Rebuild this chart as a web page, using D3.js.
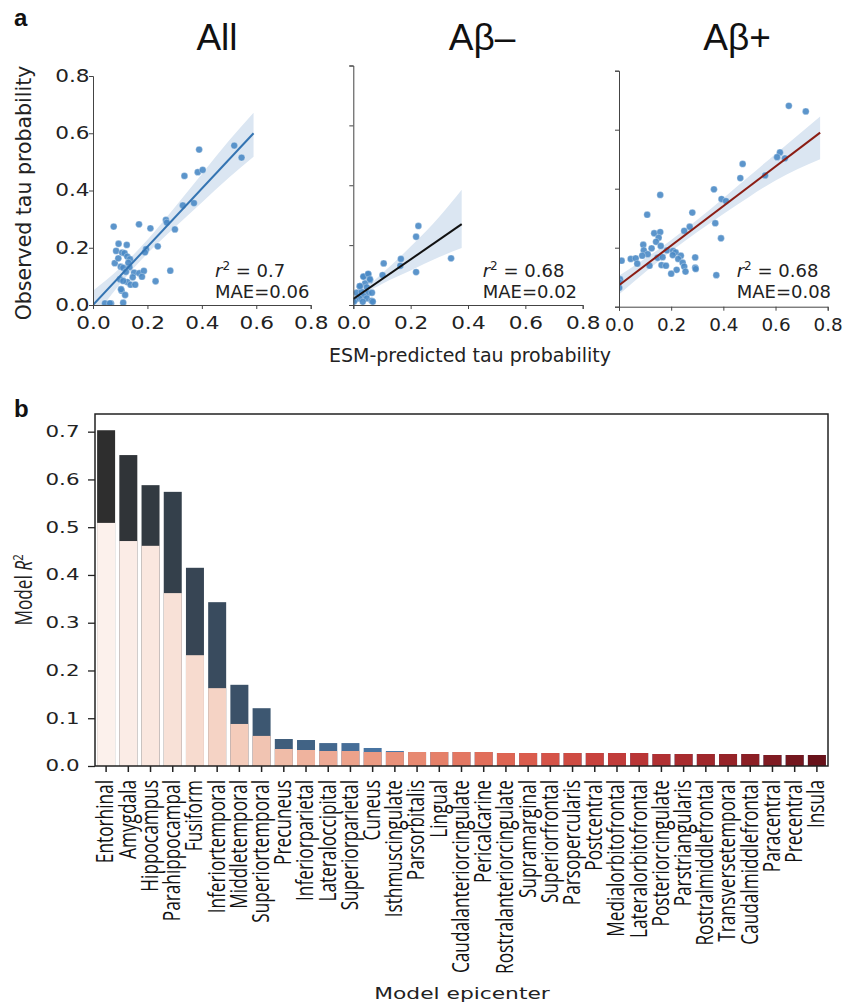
<!DOCTYPE html>
<html>
<head>
<meta charset="utf-8">
<script src="https://d3js.org/d3.v7.min.js"></script>
<style>
  body { margin: 0; background: #fff; }
  text { font-family: "DejaVu Sans", sans-serif; fill: #222; }
</style>
</head>
<body>
<svg id="fig" width="843" height="1004"></svg>
<script>
// ---------- panel a data ----------
var allX = [0.519,0.546,0.390,0.385,0.403,0.336,0.330,0.371,0.268,0.271,0.301,0.211,0.169,0.076,0.238,0.195,0.191,0.284,0.230,
            0.094,0.124,0.085,0.107,0.116,0.126,0.136,0.080,0.102,0.111,0.134,0.121,0.151,0.170,0.187,0.180,0.146,0.099,0.126,
            0.138,0.155,0.105,0.118,0.111,0.044,0.066,0.062,0.093,0.130,0.111,0.103];
var allY = [0.557,0.515,0.543,0.464,0.472,0.451,0.348,0.356,0.297,0.288,0.264,0.268,0.282,0.274,0.205,0.195,0.184,0.120,0.083,
            0.214,0.210,0.189,0.183,0.181,0.169,0.160,0.146,0.134,0.130,0.132,0.116,0.113,0.111,0.119,0.099,0.097,0.090,0.080,
            0.071,0.071,0.050,0.035,0.008,0.006,0.006,0.006,0.163,0.148,0.084,0.055];

var negX = [0.227,0.219,0.166,0.164,0.106,0.102,0.219,0.341,0.052,0.037,0.058,0.041,0.023,0.047,0.012,0.029,0.052,0.035,
            0.021,0.047,0.064,0.006,0.033,0.035,0.052,0.058,0.023,0.065,0.068,0.002];
var negY = [0.264,0.228,0.154,0.131,0.139,0.100,0.110,0.156,0.102,0.095,0.083,0.072,0.063,0.059,0.041,0.044,0.039,0.030,
            0.022,0.022,0.014,0.017,0.011,0.095,0.104,0.086,0.063,0.041,0.011,0.011];

var posX = [0.651,0.716,0.617,0.606,0.636,0.474,0.465,0.560,0.364,0.393,0.410,0.158,0.108,0.281,0.271,0.250,0.369,0.391,
            0.135,0.158,0.152,0.142,0.093,0.160,0.125,0.095,0.110,0.089,0.010,0.045,0.064,0.070,0.117,0.148,0.167,0.163,
            0.180,0.184,0.207,0.217,0.237,0.206,0.227,0.244,0.250,0.255,0.221,0.200,0.292,0.292,0.294,0.373,0.004,0.000,0.001];
var posY = [0.681,0.662,0.523,0.507,0.503,0.484,0.436,0.445,0.398,0.365,0.358,0.379,0.312,0.319,0.271,0.257,0.283,0.232,
            0.249,0.253,0.234,0.220,0.210,0.206,0.198,0.191,0.178,0.173,0.156,0.162,0.164,0.146,0.139,0.166,0.168,0.141,
            0.139,0.191,0.189,0.184,0.173,0.175,0.162,0.149,0.136,0.119,0.125,0.112,0.167,0.132,0.128,0.107,0.093,0.083,0.064];

// regression lines and confidence bands
var fitAllX = [0, 0.59],  fitAllY = [0, 0.60];
var fitNegX = [0, 0.378], fitNegY = [0.02, 0.27];
var fitPosX = [0, 0.771], fitPosY = [0.073, 0.59];

var bandAllX  = [0, 0.1, 0.2, 0.3, 0.4, 0.5, 0.59];
var bandAllLo = [-0.05, 0.074, 0.18, 0.271, 0.358, 0.445, 0.518];
var bandAllHi = [0.05, 0.13, 0.228, 0.341, 0.458, 0.575, 0.672];
var bandNegX  = [0, 0.05, 0.1, 0.2, 0.3, 0.378];
var bandNegLo = [0.005, 0.043, 0.07, 0.115, 0.16, 0.19];
var bandNegHi = [0.035, 0.063, 0.105, 0.195, 0.295, 0.385];
var bandPosX  = [0, 0.1, 0.2, 0.3, 0.4, 0.5, 0.6, 0.771];
var bandPosLo = [0.041, 0.117, 0.188, 0.253, 0.314, 0.373, 0.428, 0.50];
var bandPosHi = [0.105, 0.163, 0.226, 0.295, 0.368, 0.443, 0.518, 0.645];

var axisTicks = [0, 0.2, 0.4, 0.6, 0.8];

// ---------- panel b data ----------
var regions = ["Entorhinal","Amygdala","Hippocampus","Parahippocampal","Fusiform","Inferiortemporal","Middletemporal",
  "Superiortemporal","Precuneus","Inferiorparietal","Lateraloccipital","Superiorparietal","Cuneus","Isthmuscingulate",
  "Parsorbitalis","Lingual","Caudalanteriorcingulate","Pericalcarine","Rostralanteriorcingulate","Supramarginal",
  "Superiorfrontal","Parsopercularis","Postcentral","Medialorbitofrontal","Lateralorbitofrontal","Posteriorcingulate",
  "Parstriangularis","Rostralmiddlefrontal","Transversetemporal","Caudalmiddlefrontal","Paracentral","Precentral","Insula"];
var totalR2 = [0.703,0.651,0.588,0.574,0.415,0.343,0.170,0.121,0.0565,0.0544,0.048,0.048,0.0377,0.0314,
  0.0293,0.0293,0.0293,0.0293,0.0272,0.0272,0.0272,0.0272,0.0272,0.0272,0.0272,0.0251,0.0251,0.0251,0.0251,0.0251,
  0.023,0.023,0.023];
var baseR2 = [0.509,0.471,0.461,0.362,0.232,0.163,0.088,0.063,0.0356,0.0335,0.0314,0.0314,0.0293,0.0293,
  0.0293,0.0293,0.0293,0.0293,0.0272,0.0272,0.0272,0.0272,0.0272,0.0272,0.0272,0.0251,0.0251,0.0251,0.0251,0.0251,
  0.023,0.023,0.023];
var r2Ticks = [0, 0.1, 0.2, 0.3, 0.4, 0.5, 0.6, 0.7];

var svg = d3.select("#fig");

// panel letters
svg.append("text").attr("x", 14).attr("y", 26).text("a")
  .style("font-family", "Liberation Sans").style("font-weight", "bold").style("font-size", "24px").style("fill", "#111");
svg.append("text").attr("x", 14).attr("y", 417).text("b")
  .style("font-family", "Liberation Sans").style("font-weight", "bold").style("font-size", "24px").style("fill", "#111");

// ---------- panel a ----------
var panels = [
  {title: "All", tx: 217, left: 93, right: 310.7, top: 76, bottom: 305, xs: allX, ys: allY,
   fx: fitAllX, fy: fitAllY, bx: bandAllX, lo: bandAllLo, hi: bandAllHi, line: "#3474b2",
   r2: "0.7", mae: "0.06", ax: 215, labels: true, stretch: 1.27},
  {title: "A\u03b2\u2013", tx: 482, left: 353.3, right: 582.7, top: 65.5, bottom: 305, xs: negX, ys: negY,
   fx: fitNegX, fy: fitNegY, bx: bandNegX, lo: bandNegLo, hi: bandNegHi, line: "#111",
   r2: "0.68", mae: "0.02", ax: 482.7, labels: false, stretch: 1.27},
  {title: "A\u03b2+", tx: 737, left: 619, right: 827.7, top: 70.7, bottom: 306.7, xs: posX, ys: posY,
   fx: fitPosX, fy: fitPosY, bx: bandPosX, lo: bandPosLo, hi: bandPosHi, line: "#8b1d14",
   r2: "0.68", mae: "0.08", ax: 736.7, labels: false, stretch: 1.08}
];

panels.forEach(function(p, k){
  var x = d3.scaleLinear().domain([0, 0.8]).range([p.left, p.right]);
  var y = d3.scaleLinear().domain([0, 0.8]).range([p.bottom, p.top]);
  var g = svg.append("g");

  g.append("clipPath").attr("id", "clip" + k)
    .append("rect").attr("x", p.left).attr("y", p.top)
    .attr("width", p.right - p.left).attr("height", p.bottom - p.top);

  var plot = g.append("g").attr("clip-path", "url(#clip" + k + ")");

  var area = d3.area()
    .x(function(d, i){ return x(d); })
    .y0(function(d, i){ return y(p.lo[i]); })
    .y1(function(d, i){ return y(p.hi[i]); })
    .curve(d3.curveMonotoneX);
  plot.append("path").datum(p.bx).attr("d", area)
    .style("fill", "#dbe6f2");

  plot.selectAll("circle").data(p.xs).enter().append("circle")
    .attr("cx", function(d){ return x(d); })
    .attr("cy", function(d, i){ return y(p.ys[i]); })
    .attr("r", 3.4)
    .style("fill", "#4a89c5")
    .style("fill-opacity", 0.9)
    .style("stroke", "#fff").style("stroke-width", 0.3);

  plot.append("line")
    .attr("x1", x(p.fx[0])).attr("y1", y(p.fy[0]))
    .attr("x2", x(p.fx[1])).attr("y2", y(p.fy[1]))
    .style("stroke", p.line).style("stroke-width", 2);

  // axes
  var yAxis = d3.axisLeft(y).tickValues(axisTicks).tickSize(4)
    .tickFormat(p.labels ? d3.format(".1f") : function(){ return ""; });
  var ya = g.append("g").attr("transform", "translate(" + p.left + ",0)").call(yAxis);
  var xAxis = d3.axisBottom(x).tickValues(axisTicks).tickSize(4).tickPadding(8).tickFormat(d3.format(".1f"));
  var xa = g.append("g").attr("transform", "translate(0," + p.bottom + ")").call(xAxis);

  [ya, xa].forEach(function(a){
    a.select(".domain").style("stroke", "#444");
    a.selectAll(".tick line").style("stroke", "#444");
    a.selectAll(".tick text").style("font-family", "DejaVu Sans").style("font-size", "17px").style("fill", "#222")
      .attr("transform", "scale(" + p.stretch + ",1)");
  });
  ya.selectAll(".tick text").attr("x", -3.5 / p.stretch);

  // title
  svg.append("text").attr("x", p.tx).attr("y", 50).attr("text-anchor", "middle")
    .style("font-family", "Liberation Sans").style("font-size", "37px").style("fill", "#111")
    .text(p.title);

  // annotation
  var t1 = svg.append("text").attr("x", p.ax).attr("y", 277).style("font-size", "18px");
  t1.append("tspan").style("font-style", "italic").text("r");
  t1.append("tspan").attr("dy", -7).style("font-size", "12px").text("2");
  t1.append("tspan").attr("dy", 7).text(" = " + p.r2);
  svg.append("text").attr("x", p.ax).attr("y", 297.5).style("font-size", "18px").text("MAE=" + p.mae);
});

svg.append("text").attr("transform", "translate(31,193) rotate(-90)").attr("text-anchor", "middle")
  .style("font-size", "20.5px").text("Observed tau probability");
svg.append("text").attr("x", 470).attr("y", 362).attr("text-anchor", "middle")
  .style("font-size", "19px").text("ESM-predicted tau probability");

// ---------- panel b ----------
var bx0 = 95, bx1 = 828, by0 = 766, by1 = 414;
var xb = d3.scaleBand().domain(regions).range([bx0, bx1]).paddingInner(0.19).paddingOuter(0.095);
var yb = d3.scaleLinear().domain([0, 0.737]).range([by0, by1]);

// seaborn-style desaturated Reds
function desat(c, f){ var h = d3.hsl(c); h.s *= f; return h.formatHex(); }
var reds = function(i){ return desat(d3.interpolateReds((i + 1) / (regions.length + 1)), 0.75); };
var darks = d3.scaleLinear().domain([0, 13]).range(["#2e2e2e", "#4a7aab"]).interpolate(d3.interpolateRgb).clamp(true);

var gb = svg.append("g");
gb.selectAll("rect.tot").data(totalR2).enter().append("rect")
  .attr("class", "tot")
  .attr("x", function(d, i){ return xb(regions[i]); })
  .attr("y", function(d){ return yb(d); })
  .attr("width", xb.bandwidth())
  .attr("height", function(d){ return by0 - yb(d); })
  .style("fill", function(d, i){ return darks(i); });
gb.selectAll("rect.base").data(baseR2).enter().append("rect")
  .attr("class", "base")
  .attr("x", function(d, i){ return xb(regions[i]); })
  .attr("y", function(d){ return yb(d); })
  .attr("width", xb.bandwidth())
  .attr("height", function(d){ return by0 - yb(d); })
  .style("fill", function(d, i){ return reds(i); });

// frame
gb.append("rect").attr("x", bx0).attr("y", by1).attr("width", bx1 - bx0).attr("height", by0 - by1)
  .style("fill", "none").style("stroke", "#222").style("stroke-width", 1.5);

// y axis
var ybAxis = d3.axisLeft(yb).tickValues(r2Ticks).tickSize(7).tickFormat(d3.format(".1f"));
var yba = gb.append("g").attr("transform", "translate(" + bx0 + ",0)").call(ybAxis);
yba.select(".domain").remove();
yba.selectAll(".tick line").style("stroke", "#222").style("stroke-width", 1.3);
yba.selectAll(".tick text").style("font-family", "DejaVu Sans").style("font-size", "15.5px").style("fill", "#222")
  .attr("transform", "scale(1.38,1)").attr("x", -15.5 / 1.38);

// x ticks and labels
var xba = gb.append("g");
xba.selectAll("line").data(regions).enter().append("line")
  .attr("x1", function(d){ return xb(d) + xb.bandwidth() / 2; })
  .attr("x2", function(d){ return xb(d) + xb.bandwidth() / 2; })
  .attr("y1", by0).attr("y2", by0 + 6)
  .style("stroke", "#222").style("stroke-width", 1.5);
xba.selectAll("text").data(regions).enter().append("text")
  .attr("transform", function(d){ return "translate(" + (xb(d) + xb.bandwidth() / 2) + ",780) rotate(-90) scale(0.75,1)"; })
  .attr("text-anchor", "end")
  .attr("dy", "0.32em")
  .style("font-family", "Open Sans").style("font-size", "23px").style("fill", "#111")
  .text(function(d){ return d; });

// axis titles
var yl = svg.append("text").attr("transform", "translate(32,590) rotate(-90) scale(0.75,1)")
  .attr("text-anchor", "middle").style("font-family", "Open Sans").style("font-size", "23px");
yl.append("tspan").text("Model ");
yl.append("tspan").style("font-style", "italic").text("R");
yl.append("tspan").attr("dy", -9).style("font-size", "15px").text("2");

svg.append("text").attr("transform", "translate(462,999) scale(1.32,1)").attr("text-anchor", "middle")
  .style("font-family", "DejaVu Sans").style("font-size", "16.5px").text("Model epicenter");
</script>
</body>
</html>
